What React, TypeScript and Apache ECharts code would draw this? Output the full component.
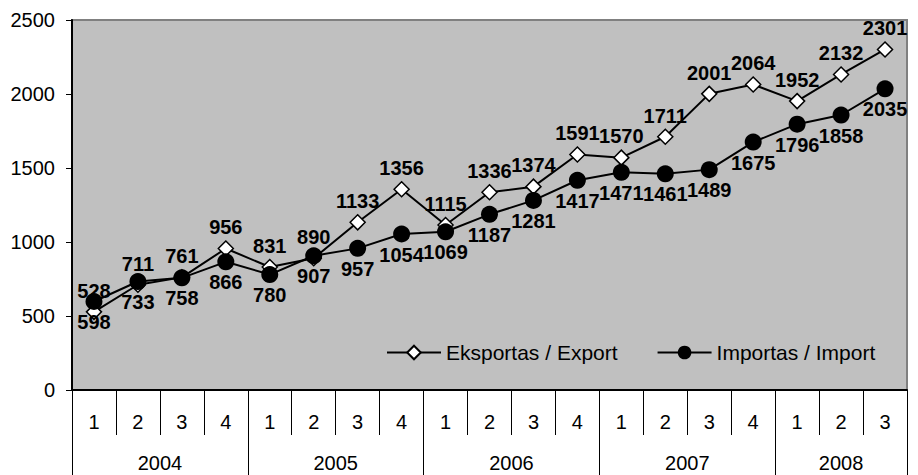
import React, { useEffect, useRef } from "react";
import * as echarts from "echarts";

const quarters = ["1","2","3","4","1","2","3","4","1","2","3","4","1","2","3","4","1","2","3"];
const years = ["2004", "2005", "2006", "2007", "2008"];
const yearStarts = [0, 4, 8, 12, 16, 19];
const exportValues = [528, 711, 761, 956, 831, 890, 1133, 1356, 1115, 1336, 1374, 1591, 1570, 1711, 2001, 2064, 1952, 2132, 2301];
const importValues = [598, 733, 758, 866, 780, 907, 957, 1054, 1069, 1187, 1281, 1417, 1471, 1461, 1489, 1675, 1796, 1858, 2035];
const seriesNames = ["Eksportas / Export", "Importas / Import"];

const FONT = "Arial, 'Liberation Sans', sans-serif";

export default function App() {
  const ref = useRef<HTMLDivElement>(null);
  useEffect(() => {
    if (!ref.current) return;
    const chart = echarts.init(ref.current, null, { renderer: "svg" });
    const yearCenters = years.map((_, i) => (yearStarts[i] + yearStarts[i + 1]) / 2);
    chart.setOption({
      animation: false,
      backgroundColor: "#ffffff",
      textStyle: { fontFamily: FONT },
      grid: {
        left: 72,
        right: 11,
        top: 20,
        bottom: 85,
        show: true,
        backgroundColor: "#C0C0C0",
        borderColor: "#808080",
        borderWidth: 2,
      },
      legend: {
        left: 381,
        top: 337,
        itemWidth: 54,
        itemHeight: 17,
        itemGap: 39,
        lineStyle: { width: 2 },
        textStyle: { fontSize: 21, color: "#000", fontFamily: FONT },
        data: seriesNames,
      },
      xAxis: [
        {
          type: "category",
          data: quarters,
          position: "bottom",
          boundaryGap: true,
          axisLine: { show: true, lineStyle: { color: "#000", width: 2 } },
          axisTick: { show: true, interval: 0, length: 45, lineStyle: { color: "#000", width: 1 } },
          axisLabel: { interval: 0, fontSize: 20, color: "#000", margin: 22, fontFamily: FONT },
        },
        {
          type: "value",
          min: 0,
          max: quarters.length,
          position: "bottom",
          axisLine: { show: false },
          splitLine: { show: false },
          axisTick: { show: true, length: 85, customValues: yearStarts, lineStyle: { color: "#000", width: 1 } },
          axisLabel: {
            fontSize: 20,
            color: "#000",
            margin: 63,
            fontFamily: FONT,
            customValues: yearCenters,
            formatter: (v: number) => {
              const idx = yearCenters.findIndex((c) => Math.abs(c - v) < 0.01);
              return idx >= 0 ? years[idx] : "";
            },
          },
        },
      ],
      yAxis: {
        type: "value",
        min: 0,
        max: 2500,
        interval: 500,
        axisLine: { show: true, lineStyle: { color: "#000", width: 2 } },
        axisTick: { show: true, length: 6, lineStyle: { color: "#000" } },
        splitLine: { show: false },
        axisLabel: {
          fontSize: 20,
          color: "#000",
          margin: 17,
          fontFamily: FONT,
          formatter: (v: number) => String(v),
        },
      },
      series: [
        {
          name: seriesNames[0],
          type: "line",
          data: exportValues,
          symbol: "diamond",
          symbolSize: 15,
          lineStyle: { color: "#000", width: 2 },
          itemStyle: { color: "#fff", borderColor: "#000", borderWidth: 1.5 },
          label: {
            show: true,
            position: "top",
            distance: 3,
            fontSize: 20,
            fontWeight: "bold",
            color: "#000",
            fontFamily: FONT,
          },
          z: 2,
        },
        {
          name: seriesNames[1],
          type: "line",
          data: importValues,
          symbol: "circle",
          symbolSize: 17,
          lineStyle: { color: "#000", width: 2 },
          itemStyle: { color: "#000", borderColor: "#000", borderWidth: 0 },
          label: {
            show: true,
            position: "bottom",
            distance: 2,
            fontSize: 20,
            fontWeight: "bold",
            color: "#000",
            fontFamily: FONT,
          },
          z: 3,
        },
      ],
    });
    return () => chart.dispose();
  }, []);
  return (
    <div
      ref={ref}
      style={{ position: "absolute", left: 0, top: 0, width: 918, height: 475 }}
    />
  );
}
